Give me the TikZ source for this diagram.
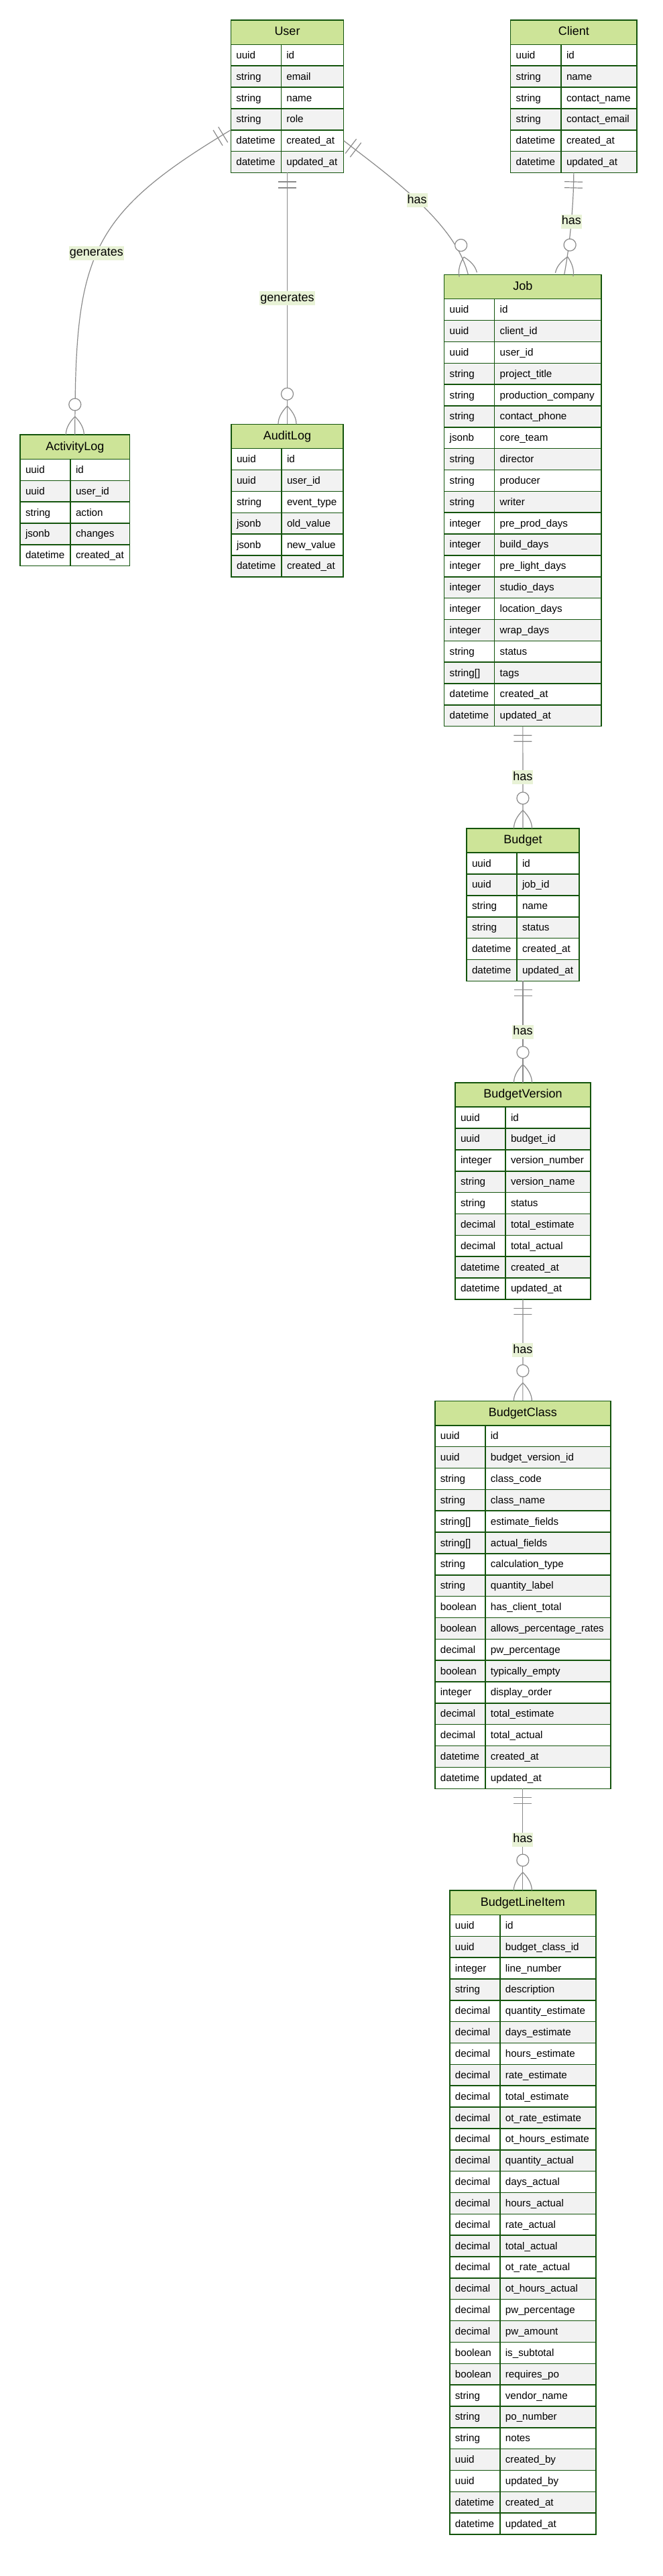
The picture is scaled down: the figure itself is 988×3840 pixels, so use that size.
\documentclass[tikz,border=0pt]{standalone}
\usepackage{fontspec}
\setmainfont{Liberation Sans}
\usetikzlibrary{calc,decorations.markings}
\definecolor{headgreen}{HTML}{CDE498}
\definecolor{boxgreen}{HTML}{13540C}
\definecolor{rowgray}{HTML}{F2F2F2}
\definecolor{linegray}{HTML}{8A8A8A}
\definecolor{labelgreen}{HTML}{E8F2D6}
\tikzset{
    entity head/.style={draw=boxgreen,fill=headgreen,line width=1.5pt,anchor=north,outer sep=0pt,
        inner sep=0pt,minimum height=36.4pt,text height=13pt,text depth=3.4pt,font=\fontsize{18}{21}\selectfont},
    attr cell/.style={draw=boxgreen,line width=1.5pt,anchor=north west,outer sep=0pt,inner xsep=8pt,
        inner ysep=0pt,minimum height=31.85pt,text height=12pt,text depth=2pt,align=left,
        font=\fontsize{15.2}{18}\selectfont},
    rel/.style={draw=linegray,line width=1.2pt},
    marker/.style={draw=linegray,line width=1.2pt},
    rel label/.style={fill=labelgreen,inner xsep=1pt,inner ysep=2pt,text height=13pt,text depth=4pt,
        font=\fontsize{18}{21}\selectfont},
    one only/.style={postaction={decorate,decoration={markings,
        mark=at position 13.5pt with {\draw[marker] (0pt,-13.5pt) -- (0pt,13.5pt) (9pt,-13.5pt) -- (9pt,13.5pt);}}}},
    zero many/.style={postaction={decorate,decoration={markings,
        mark=at position 1 with {\draw[marker,fill=white] (-45pt,0pt) circle[radius=9pt];
            \draw[marker] (-27pt,0pt) .. controls (-18pt,9pt) and (-9pt,13.5pt) .. (0pt,13.5pt)
                (-27pt,0pt) .. controls (-18pt,-9pt) and (-9pt,-13.5pt) .. (0pt,-13.5pt);}}}}
}
% #1 name, #2 title, #3 centre x, #4 top y, #5 type column, #6 name column, #7 rows
\newcommand\erentity[7]{
    \pgfmathsetmacro\typetw{#5-16}
    \pgfmathsetmacro\nametw{#6-16}
    \node[entity head,minimum width=#5pt+#6pt] (#1) at (#3,#4) {#2};
    \foreach \ty/\nm [count=\i] in {#7} {
        \ifodd\i\relax \def\rowfill{white}\else \def\rowfill{rowgray}\fi
        \node[attr cell,fill=\rowfill,text width=\typetw pt] (#1-t\i) at ([yshift=-(\i-1)*31.85pt]#1.south west) {\ty};
        \node[attr cell,fill=\rowfill,text width=\nametw pt] (#1-n\i) at (#1-t\i.north east) {\nm};
        \xdef\lastrow{\i}
    }
    \coordinate (#1-foot) at (#1.south |- #1-n\lastrow.south);
}

\begin{document}
\begin{tikzpicture}[x=1pt,y=-1pt]
    \useasboundingbox (0,0) rectangle (988,3840);

    \erentity{user}{User}{428.5}{30}{75}{93.4}{uuid/id, string/email, string/name, string/role,
        datetime/created\_at, datetime/updated\_at}
    \erentity{client}{Client}{855.85}{30}{75.3}{113}{uuid/id, string/name, string/contact\_name,
        string/contact\_email, datetime/created\_at, datetime/updated\_at}
    \erentity{activity}{ActivityLog}{111.8}{648}{75}{88.6}{uuid/id, uuid/user\_id, string/action,
        jsonb/changes, datetime/created\_at}
    \erentity{audit}{AuditLog}{428.5}{632.3}{75}{92}{uuid/id, uuid/user\_id, string/event\_type,
        jsonb/old\_value, jsonb/new\_value, datetime/created\_at}
    \erentity{job}{Job}{779.85}{409.3}{75}{159.3}{uuid/id, uuid/client\_id, uuid/user\_id,
        string/project\_title, string/production\_company, string/contact\_phone, jsonb/core\_team,
        string/director, string/producer, string/writer, integer/pre\_prod\_days, integer/build\_days,
        integer/pre\_light\_days, integer/studio\_days, integer/location\_days, integer/wrap\_days,
        string/status, string[]/tags, datetime/created\_at, datetime/updated\_at}
    \erentity{budget}{Budget}{780}{1234.8}{75}{93}{uuid/id, uuid/job\_id, string/name, string/status,
        datetime/created\_at, datetime/updated\_at}
    \erentity{version}{BudgetVersion}{780}{1613.8}{75}{127}{uuid/id, uuid/budget\_id,
        integer/version\_number, string/version\_name, string/status, decimal/total\_estimate,
        decimal/total\_actual, datetime/created\_at, datetime/updated\_at}
    \erentity{budgetclass}{BudgetClass}{779.85}{2088.4}{75}{187}{uuid/id, uuid/budget\_version\_id,
        string/class\_code, string/class\_name, string[]/estimate\_fields, string[]/actual\_fields,
        string/calculation\_type, string/quantity\_label, boolean/has\_client\_total,
        boolean/allows\_percentage\_rates, decimal/pw\_percentage, boolean/typically\_empty,
        integer/display\_order, decimal/total\_estimate, decimal/total\_actual, datetime/created\_at,
        datetime/updated\_at}
    \erentity{lineitem}{BudgetLineItem}{779.85}{2818}{75}{143}{uuid/id, uuid/budget\_class\_id,
        integer/line\_number, string/description, decimal/quantity\_estimate, decimal/days\_estimate,
        decimal/hours\_estimate, decimal/rate\_estimate, decimal/total\_estimate,
        decimal/ot\_rate\_estimate, decimal/ot\_hours\_estimate, decimal/quantity\_actual,
        decimal/days\_actual, decimal/hours\_actual, decimal/rate\_actual, decimal/total\_actual,
        decimal/ot\_rate\_actual, decimal/ot\_hours\_actual, decimal/pw\_percentage, decimal/pw\_amount,
        boolean/is\_subtotal, boolean/requires\_po, string/vendor\_name, string/po\_number,
        string/notes, uuid/created\_by, uuid/updated\_by, datetime/created\_at, datetime/updated\_at}

    \draw[rel,one only,zero many] (user-t5.north west)
        .. controls ($(user-t5.north west)+(-214.5,128.3)$) and ($(activity.north)+(0,-265)$) .. (activity.north)
        node[rel label,pos=.52] {generates};
    \draw[rel,one only,zero many] (user-foot) -- node[rel label] {generates} (audit.north);
    \draw[rel,one only,zero many] (user-n5.east)
        .. controls ($(user-n5.east)+(63.2,49)$) and ($(job.north west)+(16.7,-77.8)$) .. ([xshift=35.6pt]job.north west)
        node[rel label,pos=.5] {has};
    \draw[rel,one only,zero many] (client-foot)
        .. controls ($(client-foot)+(0,40)$) and ($(job.north east)+(-46,-49)$) .. ([xshift=-55.3pt]job.north east)
        node[rel label,pos=.5] {has};
    \draw[rel,one only,zero many] (job-foot) -- node[rel label] {has} (budget.north);
    \draw[rel,one only,zero many] (budget-foot) -- node[rel label] {has} (version.north);
    \draw[rel,one only,zero many] (version-foot) -- node[rel label] {has} (budgetclass.north);
    \draw[rel,one only,zero many] (budgetclass-foot) -- node[rel label] {has} (lineitem.north);
\end{tikzpicture}
\end{document}
